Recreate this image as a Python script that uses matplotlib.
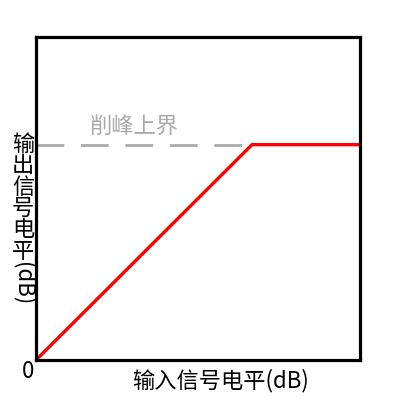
import matplotlib
matplotlib.use('Agg')
import matplotlib.pyplot as plt

plt.rcParams['font.family'] = ['Noto Sans CJK SC', 'DejaVu Sans']

# input level and output level (normalised), clipping at 1.0
x_in = [0.0, 1.0, 1.5]
y_out = [0.0, 1.0, 1.0]
clip_level = 1.0
clip_label = '削峰上界'
x_label = '输入信号电平(dB)'
y_label_chars = '输出信号电平'
y_label_unit = '(dB)'

fig = plt.figure(figsize=(4, 4), dpi=100)
ax = fig.add_axes([0.09, 0.1, 0.81, 0.8075])

ax.plot([0, 1.0], [clip_level, clip_level], color='#aaaaaa', lw=2, ls=(0, (10, 6)))
ax.plot(x_in, y_out, color='red', lw=2.4, solid_capstyle='butt')

ax.set_xlim(0, 1.5)
ax.set_ylim(0, 1.5)
ax.set_xticks([])
ax.set_yticks([])
for s in ax.spines.values():
    s.set_linewidth(2.3)

ax.text(0.25, clip_level + 0.03, clip_label, color='#aaaaaa', fontsize=16,
        ha='left', va='bottom')
fig.text(28 / 400, 1 - 372 / 400, '0', fontsize=16, ha='center', va='center')
fig.text(220 / 400, 1 - 381 / 400, x_label, fontsize=16, ha='center', va='center')

# vertical y label: upright CJK characters, then rotated unit
for i, ch in enumerate(y_label_chars):
    fig.text(23 / 400, 1 - (144 + 21.5 * i) / 400, ch, fontsize=16,
             ha='center', va='center')
fig.text(23 / 400, 1 - 262 / 400, y_label_unit, fontsize=16, ha='center',
         va='top', rotation=-90)

fig.savefig('out.png', dpi=100)
